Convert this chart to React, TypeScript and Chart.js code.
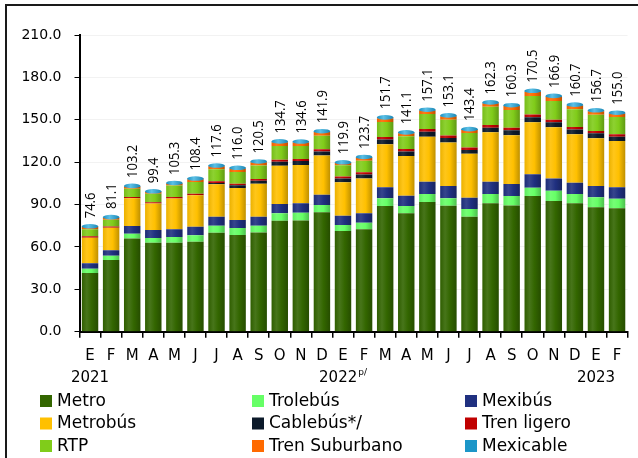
import React, { useEffect, useRef } from "react";
import { Chart, registerables } from "chart.js";

Chart.register(...registerables);

const months = ["E", "F", "M", "A", "M", "J", "J", "A", "S", "O", "N", "D", "E", "F", "M", "A", "M", "J", "J", "A", "S", "O", "N", "D", "E", "F"];
const years = ["2021", "", "", "", "", "", "", "", "", "", "", "", "2022", "", "", "", "", "", "", "", "", "", "", "", "2023", ""];
const yearNotes = ["", "", "", "", "", "", "", "", "", "", "", "", "p/", "", "", "", "", "", "", "", "", "", "", "", "", ""];

const metro = [41.5, 50.7, 66.0, 63.0, 63.0, 63.7, 70.0, 68.4, 70.3, 78.6, 78.7, 84.5, 71.3, 72.5, 89.0, 83.8, 91.8, 89.2, 81.4, 90.9, 89.4, 96.0, 92.5, 90.9, 88.0, 87.3];
const trolebus = [3.0, 3.1, 3.4, 3.4, 4.0, 4.5, 5.0, 5.0, 4.7, 5.2, 5.5, 5.2, 4.2, 4.6, 5.4, 5.2, 5.7, 5.2, 5.4, 6.6, 6.6, 5.9, 7.3, 6.6, 7.1, 6.8];
const mexibus = [4.0, 3.8, 5.5, 5.5, 5.5, 6.0, 6.4, 5.6, 6.4, 6.6, 6.7, 7.3, 6.6, 6.7, 7.8, 7.3, 8.7, 8.7, 8.0, 8.7, 8.5, 9.5, 8.7, 8.0, 8.0, 8.1];
const metrobus = [18.0, 16.0, 19.5, 18.8, 21.8, 22.3, 23.0, 22.7, 23.3, 27.1, 27.0, 27.8, 23.6, 24.7, 30.4, 28.0, 31.8, 30.9, 31.2, 34.9, 34.5, 36.8, 36.2, 34.2, 33.8, 32.8];
const cablebus = [0, 0, 0, 0, 0, 0, 0.8, 1.9, 2.2, 2.8, 2.9, 2.8, 2.8, 2.8, 3.4, 3.2, 3.5, 3.1, 2.6, 3.3, 3.5, 3.5, 3.5, 3.4, 3.5, 3.0];
const trenLigero = [1.0, 0.9, 1.0, 1.0, 1.1, 1.2, 1.3, 1.2, 1.2, 1.4, 1.4, 1.5, 1.4, 1.5, 1.8, 1.8, 2.0, 1.8, 1.8, 1.9, 1.9, 2.0, 1.9, 1.8, 1.7, 1.8];
const rtp = [5.0, 4.8, 5.8, 5.9, 8.0, 8.3, 8.5, 8.2, 9.5, 9.8, 9.3, 9.6, 7.9, 8.2, 10.6, 9.0, 10.5, 11.1, 10.2, 12.9, 12.5, 13.2, 13.2, 12.5, 11.5, 12.1];
const trenSuburbano = [1.7, 1.4, 1.6, 1.4, 1.5, 1.9, 2.1, 2.5, 2.4, 2.6, 2.5, 2.6, 1.6, 2.2, 2.7, 2.2, 2.5, 2.5, 2.2, 2.5, 2.8, 3.0, 3.0, 2.7, 2.5, 2.5];
const mexicable = [0.4, 0.4, 0.4, 0.4, 0.4, 0.5, 0.5, 0.5, 0.5, 0.6, 0.6, 0.6, 0.5, 0.5, 0.6, 0.6, 0.6, 0.6, 0.6, 0.6, 0.6, 0.6, 0.6, 0.6, 0.6, 0.6];
const totals = [74.6, 81.1, 103.2, 99.4, 105.3, 108.4, 117.6, 116.0, 120.5, 134.7, 134.6, 141.9, 119.9, 123.7, 151.7, 141.1, 157.1, 153.1, 143.4, 162.3, 160.3, 170.5, 166.9, 160.7, 156.7, 155.0];
const yTicks = [0, 30, 60, 90, 120, 150, 180, 210];

const seriesNames = ["Metro", "Trolebús", "Mexibús", "Metrobús", "Cablebús*/", "Tren ligero", "RTP", "Tren Suburbano", "Mexicable"];
const seriesData = [metro, trolebus, mexibus, metrobus, cablebus, trenLigero, rtp, trenSuburbano, mexicable];
const seriesColors = ["#336600", "#66ff66", "#203080", "#ffc000", "#0c1a2a", "#c00000", "#80cc1a", "#ff6a00", "#1c96c8"];

const BAR_PCT = 0.78;
const FONT = "'DejaVu Sans', sans-serif";

function shade(hex: string, amt: number) {
  const n = parseInt(hex.slice(1), 16);
  const r = (n >> 16) & 255, g = (n >> 8) & 255, b = n & 255;
  const f = (c: number) => (amt >= 0 ? Math.round(c + (255 - c) * amt) : Math.round(c * (1 + amt)));
  return `rgb(${f(r)},${f(g)},${f(b)})`;
}

const makeBg = (base: string) => (c: any) => {
  const chart = c.chart;
  const xs = chart.scales && chart.scales.x;
  if (c.type !== "data" || !xs || !chart.chartArea) return base;
  const cx = xs.getPixelForValue(c.dataIndex);
  const w = (xs.width / months.length) * BAR_PCT;
  const g = chart.ctx.createLinearGradient(cx - w / 2, 0, cx + w / 2, 0);
  g.addColorStop(0, shade(base, -0.08));
  g.addColorStop(0.3, shade(base, 0.1));
  g.addColorStop(0.6, base);
  g.addColorStop(1, shade(base, -0.25));
  return g;
};

const overlay = {
  id: "overlay",
  beforeDraw(chart: any) {
    const ctx = chart.ctx;
    ctx.save();
    ctx.fillStyle = "#ffffff";
    ctx.fillRect(0, 0, chart.width, chart.height);
    ctx.strokeStyle = "#1a1a1a";
    ctx.lineWidth = 2;
    ctx.beginPath();
    ctx.moveTo(6, chart.height);
    ctx.lineTo(6, 5);
    ctx.lineTo(chart.width, 5);
    ctx.stroke();
    ctx.restore();
  },
  afterDatasetsDraw(chart: any) {
    const ctx = chart.ctx;
    const last = chart.getDatasetMeta(chart.data.datasets.length - 1);
    ctx.save();
    last.data.forEach((el: any) => {
      const rx = el.width / 2;
      const g = ctx.createLinearGradient(el.x - rx, 0, el.x + rx, 0);
      g.addColorStop(0, "#1b8fc0");
      g.addColorStop(0.4, "#5cc0e6");
      g.addColorStop(1, "#1a86b4");
      ctx.fillStyle = g;
      ctx.beginPath();
      ctx.ellipse(el.x, el.y, rx, 2.3, 0, 0, Math.PI * 2);
      ctx.fill();
    });
    ctx.restore();
  },
  afterDraw(chart: any) {
    const ctx = chart.ctx;
    const xs = chart.scales.x;
    const last = chart.getDatasetMeta(chart.data.datasets.length - 1);
    ctx.save();
    // totals
    ctx.fillStyle = "#000";
    ctx.font = "13px 'Open Sans', sans-serif";
    ctx.textAlign = "left";
    ctx.textBaseline = "middle";
    last.data.forEach((el: any, i: number) => {
      ctx.save();
      ctx.translate(el.x + 0.5, el.y - 8);
      ctx.rotate(-Math.PI / 2);
      ctx.scale(1, 1.15);
      ctx.fillText(totals[i].toFixed(1), 0, 0);
      ctx.restore();
    });
    // years
    ctx.textBaseline = "middle";
    years.forEach((yr, i) => {
      if (!yr) return;
      const cx = xs.getPixelForValue(i);
      ctx.font = `15px ${FONT}`;
      const w1 = ctx.measureText(yr).width;
      const note = yearNotes[i];
      ctx.font = `9px ${FONT}`;
      const w2 = note ? ctx.measureText(note).width + 1 : 0;
      const x0 = cx - (w1 + w2) / 2;
      ctx.font = `15px ${FONT}`;
      ctx.textAlign = "left";
      ctx.fillText(yr, x0, 378);
      if (note) {
        ctx.font = `9px ${FONT}`;
        ctx.fillText(note, x0 + w1 + 1, 373);
      }
    });
    // legend
    const colX = [40, 252, 465];
    const rowY = [401, 423.5, 446];
    ctx.font = `17px ${FONT}`;
    ctx.textAlign = "left";
    ctx.textBaseline = "middle";
    chart.data.datasets.forEach((ds: any, i: number) => {
      const x = colX[i % 3];
      const y = rowY[Math.floor(i / 3)];
      ctx.fillStyle = seriesColors[i];
      ctx.fillRect(x, y - 6, 12, 12);
      ctx.fillStyle = "#000";
      ctx.fillText(ds.label, x + 17, y + 0.5);
    });
    ctx.restore();
  },
};

export default function App() {
  const ref = useRef<HTMLCanvasElement | null>(null);
  useEffect(() => {
    if (!ref.current) return;
    const chart = new Chart(ref.current, {
      type: "bar",
      data: {
        labels: months,
        datasets: seriesNames.map((name, i) => ({
          label: name,
          data: seriesData[i],
          backgroundColor: makeBg(seriesColors[i]),
          borderWidth: 0,
          categoryPercentage: 1,
          barPercentage: BAR_PCT,
        })),
      },
      options: {
        animation: false,
        responsive: false,
        maintainAspectRatio: false,
        devicePixelRatio: 1,
        layout: { padding: { top: 35, right: 10.4, left: 0, bottom: 0 } },
        plugins: { legend: { display: false }, tooltip: { enabled: false } },
        scales: {
          x: {
            stacked: true,
            grid: { display: true, drawOnChartArea: false, drawTicks: true, tickLength: 6, color: "#000", offset: true, lineWidth: 1.5 },
            border: { display: true, color: "#000", width: 2 },
            ticks: { font: { family: FONT, size: 15 }, color: "#000", padding: 9, maxRotation: 0, autoSkip: false },
            afterFit: (s: any) => {
              s.height = 126.3;
            },
          },
          y: {
            stacked: true,
            min: 0,
            max: 210,
            afterBuildTicks: (s: any) => {
              s.ticks = yTicks.map((v) => ({ value: v }));
            },
            ticks: {
              font: { family: FONT, size: 14 },
              color: "#000",
              padding: 13,
              callback: (v: any) => Number(v).toFixed(1),
            },
            grid: { color: "rgba(0,0,0,0.05)", tickColor: "#000", tickLength: 5, lineWidth: 1 },
            border: { display: true, color: "#000", width: 2 },
            afterFit: (s: any) => {
              s.width = 79.5;
            },
          },
        },
      },
      plugins: [overlay],
    });
    return () => chart.destroy();
  }, []);
  return (
    <div style={{ position: "fixed", left: 0, top: 0, width: 638, height: 458, background: "#fff" }}>
      <canvas ref={ref} width={638} height={458} style={{ display: "block", width: 638, height: 458 }} />
    </div>
  );
}
